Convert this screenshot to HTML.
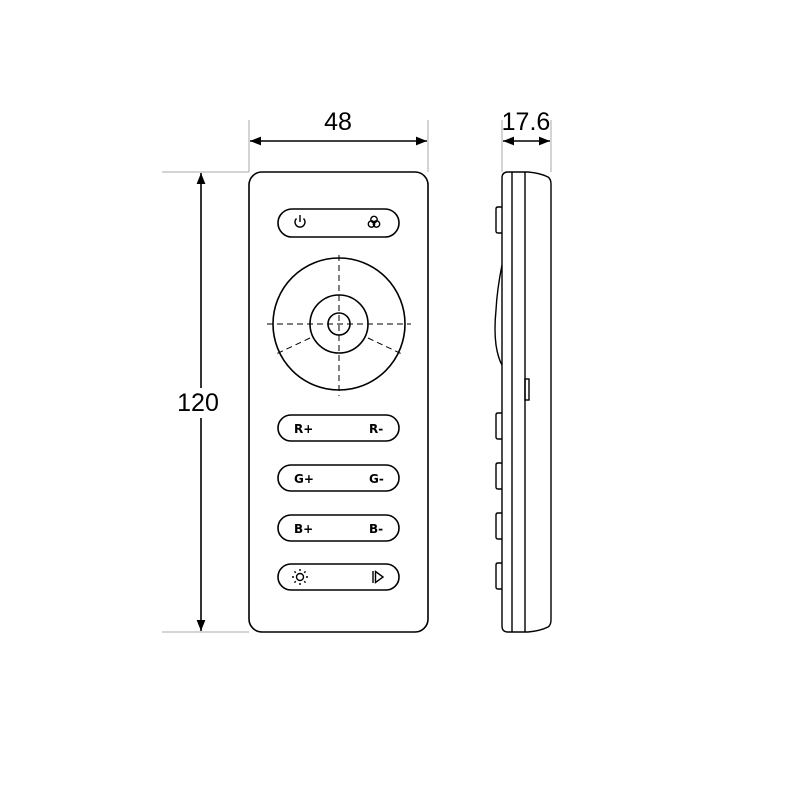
<!DOCTYPE html>
<html><head><meta charset="utf-8"><style>html,body{margin:0;padding:0;background:#fff}svg{display:block}</style></head>
<body>
<svg width="800" height="800" viewBox="0 0 800 800" xmlns="http://www.w3.org/2000/svg" font-family="Liberation Sans, sans-serif">
<defs>
<marker id="a" viewBox="0 0 10 10" refX="10" refY="5" markerWidth="7" markerHeight="7" orient="auto-start-reverse"><path d="M0,1 L10,5 L0,9 Z" fill="#000"/></marker>
</defs>
<g stroke="#aaa" stroke-width="1" fill="none">
<line x1="249" y1="120" x2="249" y2="172"/>
<line x1="428" y1="120" x2="428" y2="172"/>
<line x1="502" y1="120" x2="502" y2="172"/>
<line x1="551" y1="120" x2="551" y2="172"/>
<line x1="162" y1="172" x2="249" y2="172"/>
<line x1="162" y1="632" x2="249" y2="632"/>
</g>
<g stroke="#000" stroke-width="1.6">
<line x1="250" y1="141" x2="427" y2="141" marker-start="url(#a)" marker-end="url(#a)"/>
<line x1="503" y1="141" x2="550" y2="141" marker-start="url(#a)" marker-end="url(#a)"/>
<line x1="201" y1="173" x2="201" y2="631" marker-start="url(#a)" marker-end="url(#a)"/>
</g>
<rect x="190" y="388" width="24" height="30" fill="#fff"/>
<text x="338" y="130" font-size="25" text-anchor="middle">48</text>
<text x="526" y="130" font-size="25" text-anchor="middle">17.6</text>
<text x="198" y="411" font-size="25" text-anchor="middle">120</text>

<g fill="none" stroke="#000" stroke-width="1.6">
<rect x="249" y="172" width="179" height="460" rx="13"/>
<rect x="278" y="209" width="121" height="28" rx="14"/>
<rect x="278" y="415" width="121" height="26" rx="13"/>
<rect x="278" y="465" width="121" height="26" rx="13"/>
<rect x="278" y="515" width="121" height="26" rx="13"/>
<rect x="278" y="564" width="121" height="26" rx="13"/>
<circle cx="339" cy="324" r="66"/>
<circle cx="339" cy="324" r="29"/>
<circle cx="339" cy="324" r="11"/>
</g>
<g stroke="#000" stroke-width="1" stroke-dasharray="6,4" fill="none">
<line x1="267" y1="324" x2="411" y2="324"/>
<line x1="339" y1="255" x2="339" y2="396"/>
<line x1="310" y1="338" x2="274" y2="355"/>
<line x1="368" y1="338" x2="404" y2="355"/>
</g>
<!-- power icon -->
<g fill="none" stroke="#000" stroke-width="1.4">
<path d="M296.5,218.5 A5,5 0 1 0 303.5,218.5"/>
<line x1="300" y1="215" x2="300" y2="222"/>
<circle cx="374" cy="219.5" r="3.2"/><circle cx="371.5" cy="224" r="3.2"/><circle cx="376.5" cy="224" r="3.2"/>
</g>
<g font-size="12" font-weight="bold" font-family="DejaVu Sans, sans-serif">
<text x="294" y="433">R+</text><text x="369" y="433">R-</text>
<text x="294" y="483">G+</text><text x="369" y="483">G-</text>
<text x="294" y="533">B+</text><text x="369" y="533">B-</text>
</g>
<g fill="none" stroke="#000" stroke-width="1.4">
<circle cx="300" cy="577" r="3.5"/>
<path d="M300,571v-2 M300,583v2 M294,577h-2 M306,577h2 M295.8,572.8l-1.4,-1.4 M304.2,581.2l1.4,1.4 M295.8,581.2l-1.4,1.4 M304.2,572.8l1.4,-1.4"/>
<line x1="373" y1="571" x2="373" y2="583"/>
<path d="M375.5,571.5 L383,577 L375.5,582.5 Z"/>
</g>

<!-- side view -->
<g fill="none" stroke="#000" stroke-width="1.4">
<path d="M508,172 L528,172 Q540,173 548,177 Q551,179 551,184 L551,620 Q551,625 548,627 Q540,631 528,632 L508,632 Q502,632 502,626 L502,178 Q502,172 508,172 Z"/>
<line x1="512" y1="172" x2="512" y2="632"/>
<line x1="525" y1="172" x2="525" y2="632"/>
<path d="M502,207 h-4 q-2,0 -2,2 v22 q0,2 2,2 h4"/>
<path d="M502,413 h-4 q-2,0 -2,2 v22 q0,2 2,2 h4"/>
<path d="M502,463 h-4 q-2,0 -2,2 v22 q0,2 2,2 h4"/>
<path d="M502,513 h-4 q-2,0 -2,2 v22 q0,2 2,2 h4"/>
<path d="M502,563 h-4 q-2,0 -2,2 v22 q0,2 2,2 h4"/>
<path d="M502,265 Q497,290 496,310 Q494,330 496,345 Q498,358 502,365"/>
<rect x="525" y="379" width="4" height="21"/>
</g>
</svg>
</body></html>
